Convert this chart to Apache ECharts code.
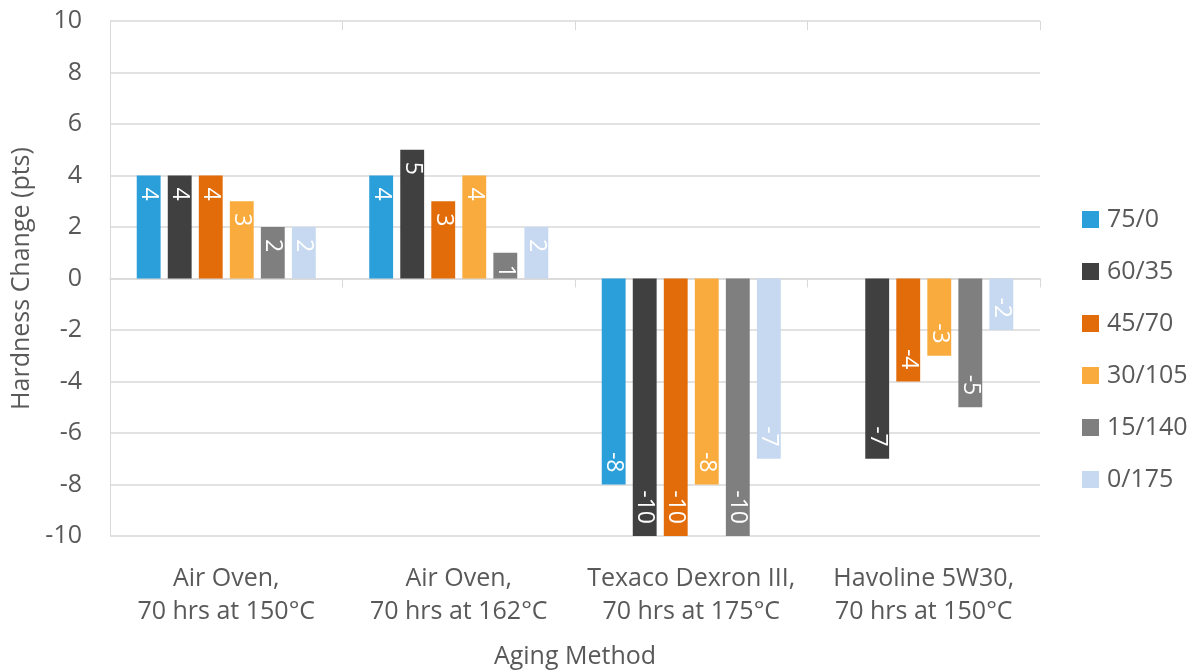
<!DOCTYPE html>
<html><head><meta charset="utf-8">
<script src="https://cdn.jsdelivr.net/npm/echarts@6/dist/echarts.min.js"></script>
<style>html,body{margin:0;padding:0;background:#fff}#c{width:1201px;height:671px}</style>
</head><body><div id="c"></div>
<script>
const categories = ["Air Oven,\n70 hrs at 150°C", "Air Oven,\n70 hrs at 162°C", "Texaco Dexron III,\n70 hrs at 175°C", "Havoline 5W30,\n70 hrs at 150°C"];
const seriesNames = ["75/0", "60/35", "45/70", "30/105", "15/140", "0/175"];
const s75_0 = [4, 4, -8, null];
const s60_35 = [4, 5, -10, -7];
const s45_70 = [4, 3, -10, -4];
const s30_105 = [3, 4, -8, -3];
const s15_140 = [2, 1, -10, -5];
const s0_175 = [2, 2, -7, -2];
const yTicks = [-10, -8, -6, -4, -2, 0, 2, 4, 6, 8, 10];

const values = [s75_0, s60_35, s45_70, s30_105, s15_140, s0_175];
const colors = ["#2A9FD9", "#404040", "#E36C0A", "#F9AC3D", "#7F7F7F", "#C6D9F0"];
const FONT = "'Open Sans', sans-serif";
const TXT = "#595959";

const series = seriesNames.map((name, i) => ({
  name, type: 'bar', xAxisIndex: 0,
  barGap: '30%', barCategoryGap: '23%',
  itemStyle: { color: colors[i] },
  data: values[i].map(v => v == null ? null : {
    value: v,
    label: {
      show: true, rotate: -90,
      position: v >= 0 ? 'insideTop' : 'insideBottom',
      align: v >= 0 ? 'left' : 'right', verticalAlign: 'middle',
      distance: 12,
      color: '#fff', fontSize: 23, fontFamily: FONT,
      formatter: '{c}'
    }
  })
}));

const chart = echarts.init(document.getElementById('c'), null, { renderer: 'canvas' });
chart.setOption({
  animation: false,
  textStyle: { fontFamily: FONT },
  grid: { left: 110, right: 161, top: 21, bottom: 135, containLabel: false, outerBoundsMode: 'none' },
  legend: {
    orient: 'vertical', left: 1082, top: 207, padding: 0,
    itemWidth: 17, itemHeight: 17, itemGap: 27,
    icon: 'rect',
    textStyle: { color: TXT, fontSize: 25, fontFamily: FONT, padding: [0, 0, 0, 3] },
    data: seriesNames
  },
  xAxis: [
    { type: 'category', data: categories, axisLine: { onZero: true, lineStyle: { color: '#d9d9d9', width: 1.5 } },
      axisTick: { show: true, length: 9, lineStyle: { color: '#d9d9d9' } }, axisLabel: { show: false }, splitLine: { show: false } },
    { type: 'category', data: categories, axisLine: { show: false, onZero: true },
      axisTick: { show: true, inside: true, length: 9, lineStyle: { color: '#d9d9d9' } }, axisLabel: { show: false } },
    { type: 'category', data: categories, position: 'bottom', axisLine: { show: false, onZero: false },
      axisTick: { show: false },
      axisLabel: { color: TXT, fontSize: 25, fontFamily: FONT, lineHeight: 33, margin: 26, interval: 0 },
      name: 'Aging Method', nameLocation: 'middle', nameGap: 108,
      nameTextStyle: { color: TXT, fontSize: 25, fontFamily: FONT } }
  ],
  yAxis: {
    type: 'value', min: -10, max: 10, interval: 2,
    axisLine: { show: true, lineStyle: { color: '#d9d9d9' } },
    axisTick: { show: false },
    splitLine: { lineStyle: { color: '#d9d9d9', width: 1.5 } },
    axisLabel: { color: TXT, fontSize: 25, fontFamily: FONT, margin: 28,
      formatter: v => yTicks.includes(v) ? String(v) : '' },
    name: 'Hardness Change (pts)', nameLocation: 'middle', nameGap: 76,
    nameTextStyle: { color: TXT, fontSize: 25, fontFamily: FONT }
  },
  series
});
</script></body></html>
